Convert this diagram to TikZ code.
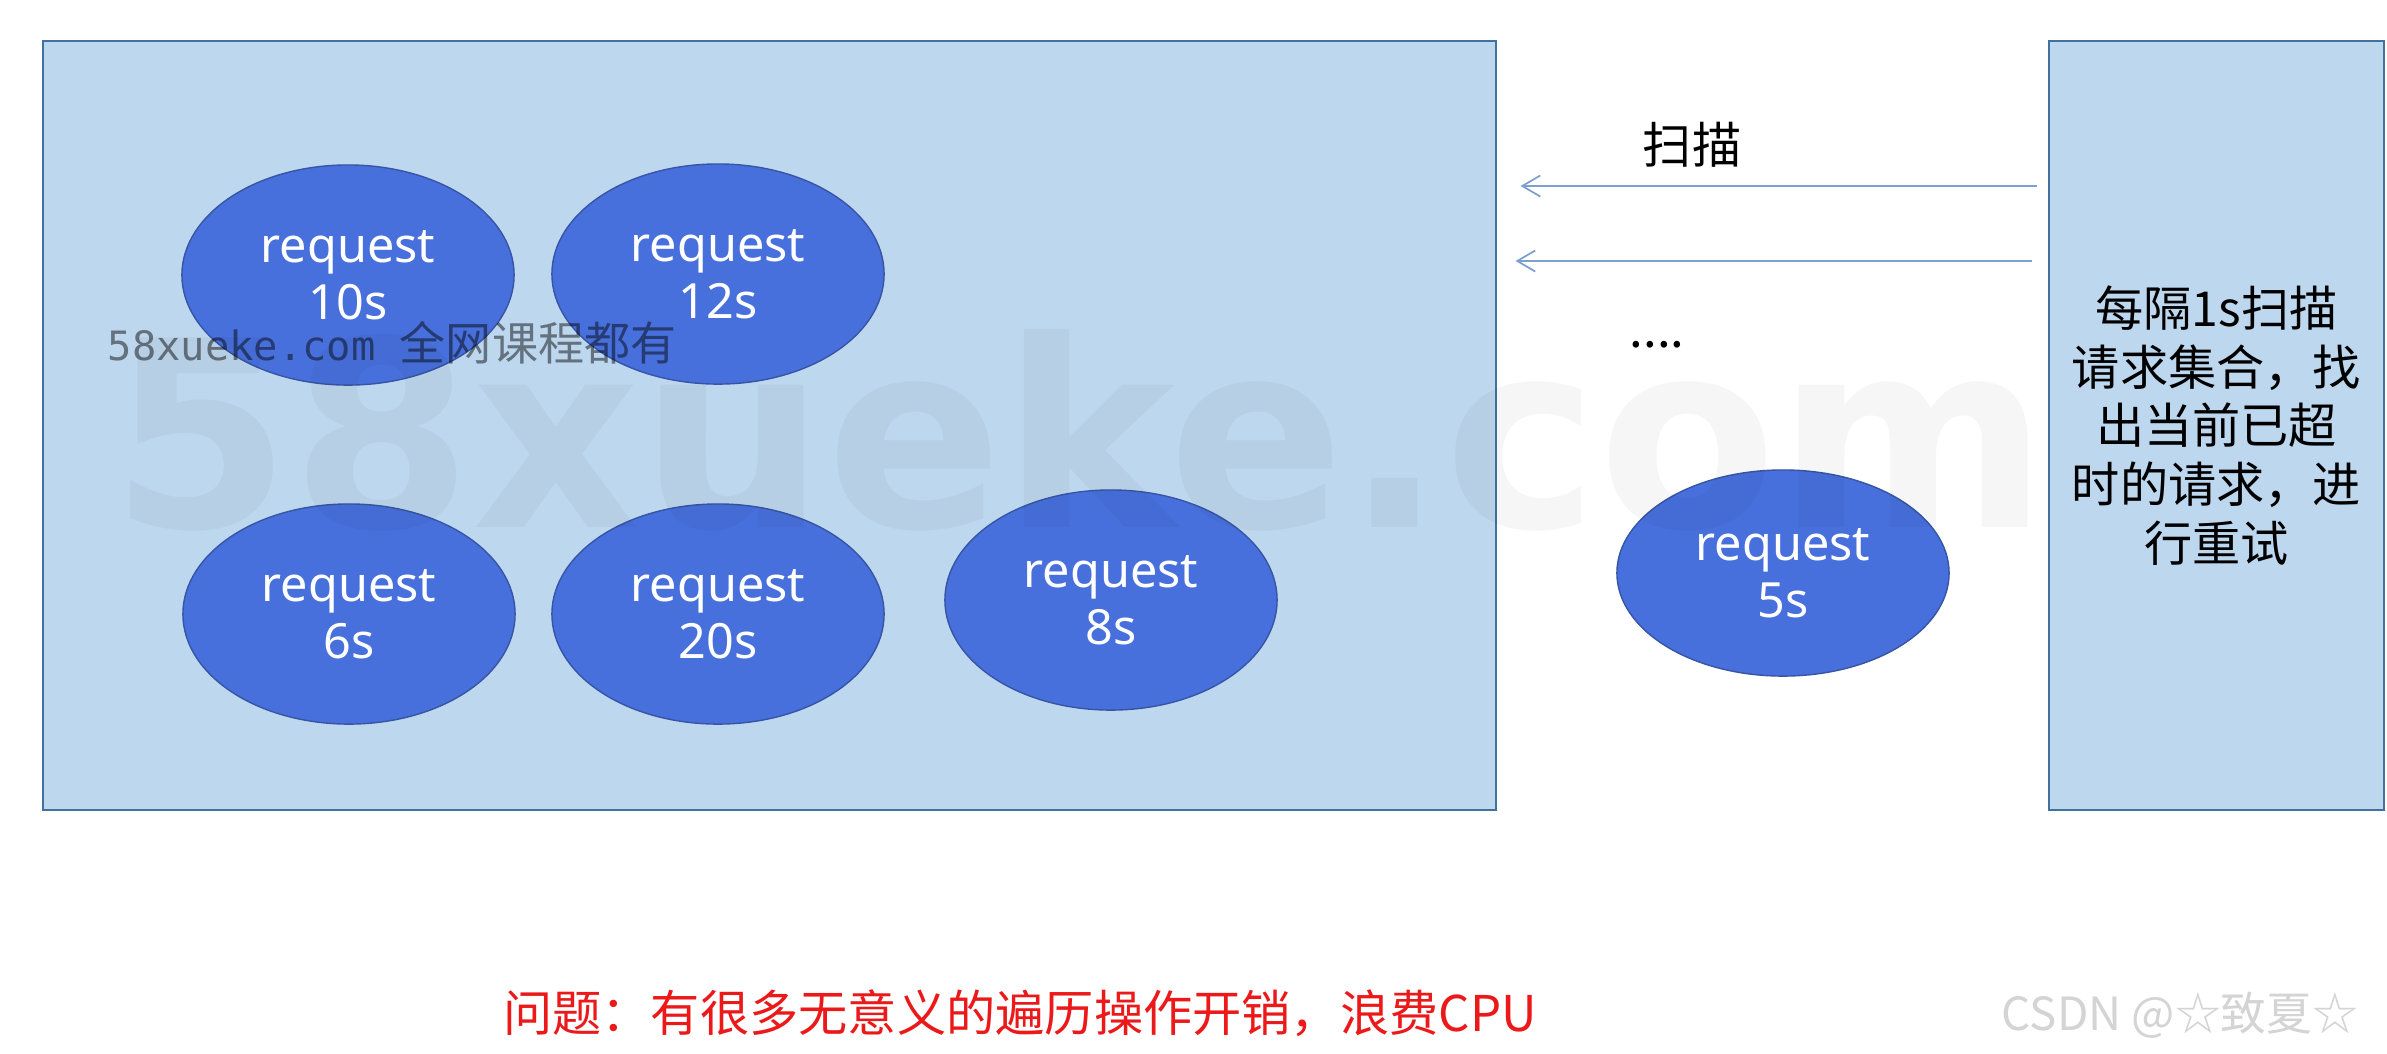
\documentclass[tikz,border=0pt]{standalone}
\usepackage{fontspec}
\setmainfont{Noto Sans CJK SC}
\newfontfamily\reqfont{Noto Sans}
\newfontfamily\wmmono{DejaVu Sans Mono}
\newfontfamily\wmbig{DejaVu Sans}
\usetikzlibrary{arrows.meta, shapes.geometric}
\definecolor{poolfill}{RGB}{189,215,238}
\definecolor{pooldraw}{RGB}{65,113,156}
\definecolor{reqfill}{RGB}{72,112,220}
\definecolor{reqdraw}{RGB}{55,85,165}
\definecolor{scancol}{RGB}{125,160,208}
\definecolor{warncol}{RGB}{235,25,25}

\begin{document}
\begin{tikzpicture}[
  x=0.01cm, y=-0.01cm,
  font=\fontsize{14}{16.5}\selectfont,
  box/.style={draw=pooldraw, fill=poolfill, line width=0.6pt, inner sep=0pt,
              minimum height=7.69cm},
  req/.style={ellipse, draw=reqdraw, fill=reqfill, line width=0.4pt, inner sep=0pt,
              minimum width=3.32cm, minimum height=2.2cm, text=white, align=center,
              font=\reqfont\fontsize{13.8}{16.2}\selectfont},
  scan/.style={draw=scancol, line width=0.5pt,
               -{Straight Barb[length=1.8mm, width=2.1mm]},
               shorten <=0.11cm, shorten >=0.23cm},
  mark text/.style={inner sep=0pt, text=black}
]
  \useasboundingbox (0,0) rectangle (2387,1053);
  \fill[white] (0,0) rectangle (2387,1053);

  \node[box, minimum width=14.53cm] (pool) at (769.5,425.5) {};
  \node[box, minimum width=3.35cm, align=center,
        font=\fontsize{13.7}{16.7}\selectfont] (timer) at (2216.5,425.5)
    {每隔1s扫描\\请求集合，找\\出当前已超\\时的请求，进\\行重试};

  \node[req] (r10) at (348,275) {request\\10s};
  \node[req] (r12) at (718,274) {request\\12s};
  \node[req] (r6) at (349,614) {request\\6s};
  \node[req] (r20) at (718,614) {request\\20s};
  \node[req] (r8) at (1111,600) {request\\8s};
  \node[req, minimum height=2.06cm] (r5) at (1783,573) {request\\5s};

  \coordinate (s1) at (2000,186);
  \coordinate (s2) at (2000,261);
  \draw[scan] (timer.west |- s1) -- (pool.east |- s1);
  \draw[scan, shorten <=0.16cm, shorten >=0.18cm] (timer.west |- s2) -- (pool.east |- s2);

  \node (scanlbl) at (1692,145) {扫描};
  \node[anchor=base] (more) at (1657,347) {....};

  \node[text=warncol] (issue) at (1020,1013)
    {问题：有很多无意义的遍历操作开销，浪费CPU};

  \node[mark text, anchor=base west, text opacity=0.035,
        font=\wmbig\bfseries\fontsize{74}{80}\selectfont] (wmbig) at (110,527) {58xueke.com};
  \node[mark text, anchor=base west, text opacity=0.47,
        font=\fontsize{13.1}{15}\selectfont] (wmsmall) at (107,360)
    {{\wmmono\fontsize{11.5}{15}\selectfont 58xueke.com }全网课程都有};
  \node[text=black!17, font=\fontsize{13}{15}\selectfont] (csdn) at (2180,1015)
    {CSDN @☆致夏☆};
\end{tikzpicture}
\end{document}
